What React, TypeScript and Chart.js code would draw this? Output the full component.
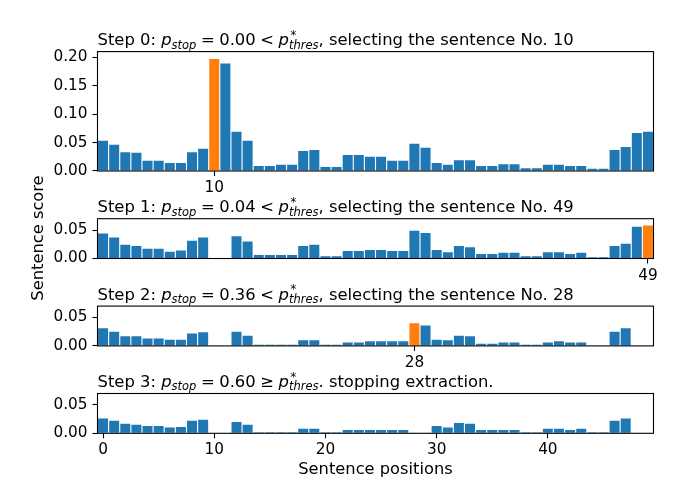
import React, { useEffect, useRef } from "react";
import { Chart, registerables } from "chart.js";

Chart.register(...registerables);

// ---------------- data ----------------
const positions: number[] = Array.from({ length: 50 }, (_, i) => i);

const step0Scores = [
  0.053, 0.046, 0.033, 0.032, 0.018, 0.018, 0.014, 0.014, 0.033, 0.039,
  0.197, 0.189, 0.069, 0.053, 0.009, 0.009, 0.011, 0.011, 0.035, 0.037,
  0.007, 0.007, 0.028, 0.028, 0.025, 0.025, 0.018, 0.018, 0.048, 0.041,
  0.014, 0.011, 0.019, 0.019, 0.009, 0.009, 0.012, 0.012, 0.005, 0.005,
  0.011, 0.011, 0.009, 0.009, 0.004, 0.004, 0.037, 0.042, 0.067, 0.069,
];
const step1Scores = [
  0.044, 0.037, 0.024, 0.022, 0.017, 0.017, 0.012, 0.014, 0.031, 0.037,
  0, 0, 0.039, 0.030, 0.006, 0.006, 0.006, 0.006, 0.022, 0.024,
  0.004, 0.004, 0.013, 0.013, 0.015, 0.015, 0.013, 0.013, 0.049, 0.045,
  0.015, 0.011, 0.022, 0.020, 0.008, 0.008, 0.010, 0.010, 0.004, 0.004,
  0.011, 0.011, 0.008, 0.010, 0.002, 0.002, 0.022, 0.026, 0.056, 0.058,
];
const step2Scores = [
  0.031, 0.025, 0.017, 0.017, 0.013, 0.013, 0.011, 0.011, 0.022, 0.024,
  0, 0, 0.025, 0.018, 0.002, 0.002, 0.002, 0.002, 0.010, 0.010,
  0.002, 0.002, 0.006, 0.006, 0.008, 0.008, 0.008, 0.008, 0.040, 0.036,
  0.011, 0.010, 0.018, 0.017, 0.004, 0.004, 0.006, 0.006, 0.002, 0.002,
  0.006, 0.008, 0.006, 0.006, 0, 0, 0.025, 0.031, 0, 0,
];
const step3Scores = [
  0.026, 0.022, 0.017, 0.015, 0.013, 0.013, 0.010, 0.011, 0.022, 0.024,
  0, 0, 0.020, 0.015, 0.002, 0.002, 0.002, 0.002, 0.008, 0.008,
  0.002, 0.002, 0.006, 0.006, 0.006, 0.006, 0.006, 0.006, 0, 0,
  0.013, 0.010, 0.018, 0.017, 0.006, 0.006, 0.006, 0.006, 0.002, 0.002,
  0.008, 0.008, 0.006, 0.008, 0.002, 0.002, 0.022, 0.026, 0, 0,
];
const stepScores = [step0Scores, step1Scores, step2Scores, step3Scores];
const selected: (number | null)[] = [10, 49, 28, null];

const pStopLabels = ["0.00", "0.04", "0.36", "0.60"];
const pStopOps = ["<", "<", "<", "\u2265"];
const titleTails = [
  ", selecting the sentence No. 10",
  ", selecting the sentence No. 49",
  ", selecting the sentence No. 28",
  ". stopping extraction.",
];

const xTickValues = [[10], [49], [28], [0, 10, 20, 30, 40]];
const yTickValues = [
  [0, 0.05, 0.1, 0.15, 0.2],
  [0, 0.05],
  [0, 0.05],
  [0, 0.05],
];
const yMaxValues = [0.21, 0.07, 0.07, 0.07];

const yAxisLabel = "Sentence score";
const xAxisLabel = "Sentence positions";

// ---------------- layout / style ----------------
const W = 688;
const H = 500;
const LEFT = 97.5;
const RIGHT = 653.5;
const PANEL_TOP = [51.6, 218.7, 306.1, 393.5];
const PANEL_BOTTOM = [171, 258.5, 345.9, 433.3];
const X_AXIS_H = 26;
const BLUE = "#1f77b4";
const ORANGE = "#ff7f0e";
const FAMILY = '"DejaVu Sans"';
const TITLE_SIZE = 16.4;
const TICK_SIZE = 15.3;
const LABEL_SIZE = 16.3;

function drawTitle(ctx: CanvasRenderingContext2D, x: number, y: number, idx: number) {
  const S = TITLE_SIZE;
  const sub = S * 0.7;
  const font = (sz: number, it: boolean) => `${it ? "italic " : ""}${sz}px ${FAMILY}`;
  let cx = x;
  ctx.save();
  ctx.fillStyle = "#000";
  ctx.textAlign = "left";
  ctx.textBaseline = "alphabetic";
  const put = (t: string, sz: number, it: boolean, dy = 0) => {
    ctx.font = font(sz, it);
    ctx.fillText(t, cx, y + dy);
    cx += ctx.measureText(t).width;
  };
  const relGap = S * 0.278;
  put(`Step ${idx}: `, S, false);
  put("p", S, true);
  put("stop", sub, true, 3.4);
  cx += relGap;
  put("=", S, false);
  cx += relGap;
  put(pStopLabels[idx], S, false);
  cx += relGap;
  put(pStopOps[idx], S, false);
  cx += relGap;
  put("p", S, true);
  const after = cx;
  ctx.font = font(sub, false);
  ctx.fillText("*", after + 1.5, y - 6.5);
  put("thres", sub, true, 3.4);
  put(titleTails[idx], S, false);
  ctx.restore();
}

function makePlugin(idx: number) {
  return {
    id: "panelDecor" + idx,
    afterDraw(chart: any) {
      const { ctx, chartArea } = chart;
      const { left, right, top, bottom } = chartArea;
      ctx.save();
      ctx.strokeStyle = "#000";
      ctx.lineWidth = 1.1;
      ctx.strokeRect(left, top, right - left, bottom - top);
      ctx.restore();
      drawTitle(ctx, left, top - 6.5, idx);
      if (idx === 1) {
        ctx.save();
        ctx.fillStyle = "#000";
        ctx.font = `${LABEL_SIZE}px ${FAMILY}`;
        ctx.textAlign = "center";
        ctx.textBaseline = "middle";
        ctx.translate(38.5, 238);
        ctx.rotate(-Math.PI / 2);
        ctx.fillText(yAxisLabel, 0, 0);
        ctx.restore();
      }
      if (idx === 3) {
        ctx.save();
        ctx.fillStyle = "#000";
        ctx.font = `${LABEL_SIZE}px ${FAMILY}`;
        ctx.textAlign = "center";
        ctx.textBaseline = "alphabetic";
        ctx.fillText(xAxisLabel, (left + right) / 2, 474);
        ctx.restore();
      }
    },
  };
}

function makeConfig(idx: number): any {
  const scores = stepScores[idx];
  const colors = scores.map((_, i) => (i === selected[idx] ? ORANGE : BLUE));
  return {
    type: "bar",
    data: {
      datasets: [
        {
          data: scores.map((v, i) => ({ x: positions[i], y: v })),
          backgroundColor: colors,
          borderWidth: 0,
          barPercentage: 0.9,
          categoryPercentage: 1,
          inflateAmount: 0,
        },
      ],
    },
    options: {
      animation: false,
      responsive: false,
      devicePixelRatio: 1,
      layout: {
        padding: {
          top: PANEL_TOP[idx],
          bottom: H - PANEL_BOTTOM[idx] - X_AXIS_H,
          left: 0,
          right: W - RIGHT,
        },
      },
      plugins: {
        legend: { display: false },
        tooltip: { enabled: false },
        title: { display: false },
      },
      scales: {
        x: {
          type: "linear",
          min: -0.5,
          max: 49.5,
          offset: false,
          grid: {
            display: true,
            offset: false,
            drawOnChartArea: false,
            drawTicks: true,
            tickLength: 5,
            tickColor: "#000",
            tickWidth: 1.1,
          },
          border: { display: false },
          ticks: {
            color: "#000",
            font: { family: "DejaVu Sans", size: TICK_SIZE },
            padding: 3,
            autoSkip: false,
            maxRotation: 0,
            callback: (v: any) => String(v),
          },
          afterBuildTicks: (s: any) => {
            s.ticks = xTickValues[idx].map((v) => ({ value: v }));
          },
          afterFit: (s: any) => {
            s.height = X_AXIS_H;
          },
        },
        y: {
          min: 0,
          max: yMaxValues[idx],
          grid: {
            display: true,
            offset: false,
            drawOnChartArea: false,
            drawTicks: true,
            tickLength: 5,
            tickColor: "#000",
            tickWidth: 1.1,
          },
          border: { display: false },
          ticks: {
            color: "#000",
            font: { family: "DejaVu Sans", size: TICK_SIZE },
            padding: 5,
            callback: (v: any) => Number(v).toFixed(2),
          },
          afterBuildTicks: (s: any) => {
            s.ticks = yTickValues[idx].map((v) => ({ value: v }));
          },
          afterFit: (s: any) => {
            s.width = LEFT;
          },
        },
      },
    },
    plugins: [makePlugin(idx)],
  };
}

function Panel({ idx }: { idx: number }) {
  const ref = useRef<HTMLCanvasElement | null>(null);
  useEffect(() => {
    if (!ref.current) return;
    const chart = new Chart(ref.current, makeConfig(idx));
    return () => chart.destroy();
  }, [idx]);
  return (
    <canvas
      ref={ref}
      width={W}
      height={H}
      style={{ position: "absolute", left: 0, top: 0, width: W, height: H, display: "block" }}
    />
  );
}

export default function App() {
  return (
    <div
      style={{
        position: "absolute",
        left: 0,
        top: 0,
        width: W,
        height: H,
        background: "#fff",
        overflow: "hidden",
      }}
    >
      {[0, 1, 2, 3].map((i) => (
        <Panel key={i} idx={i} />
      ))}
    </div>
  );
}
